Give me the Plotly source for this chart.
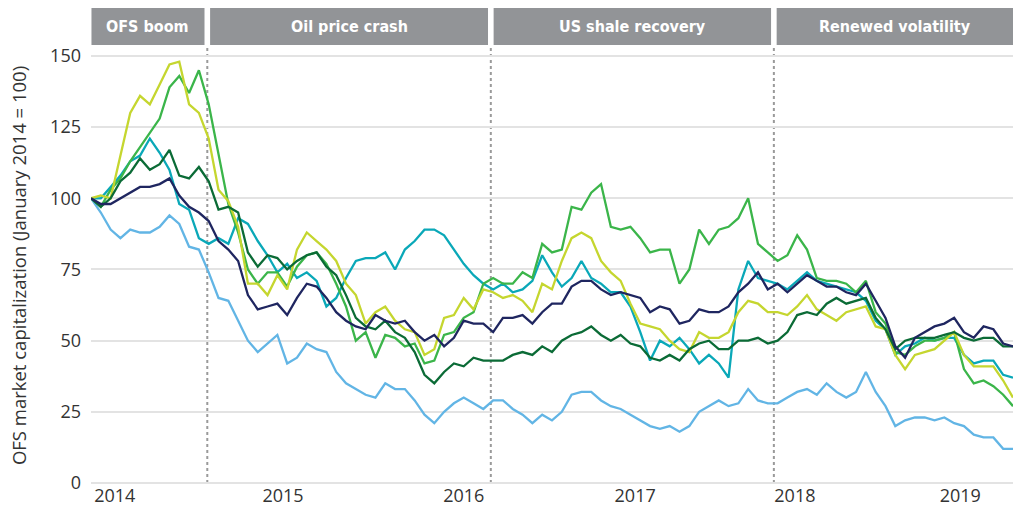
import pandas as pd
import plotly.graph_objects as go
from datetime import timedelta

start_date = "2014-01-01"
n_points = 95
step_days = 21

navy = [100, 98, 98, 100, 102, 104, 104, 105, 107, 101, 97, 95, 92, 85, 82, 78, 66,
        61, 62, 63, 59, 65, 70, 69, 65, 60, 57, 55, 54, 59, 57, 56, 57,
        53, 50, 52, 48, 51, 57, 56, 56, 53, 58, 58, 59, 56, 60, 63,
        63, 69, 71, 71, 68, 66, 67, 66, 65, 60, 62, 61, 56, 57, 61, 60,
        60, 62, 67, 70, 74, 68, 70, 67, 70, 73, 71, 69, 69, 67, 66,
        70, 64, 58, 48, 44, 51, 53, 55, 56, 58, 53, 51, 55, 54, 49, 48]

light_blue = [100, 95, 89, 86, 89, 88, 88, 90, 94, 91, 83, 82, 74, 65, 64, 57, 50,
              46, 49, 52, 42, 44, 49, 47, 46, 39, 35, 33, 31, 30, 35, 33, 33,
              29, 24, 21, 25, 28, 30, 28, 26, 29, 29, 26, 24, 21, 24, 22,
              25, 31, 32, 32, 29, 27, 26, 24, 22, 20, 19, 20, 18, 20, 25, 27,
              29, 27, 28, 33, 29, 28, 28, 30, 32, 33, 31, 35, 32, 30, 32,
              39, 32, 27, 20, 22, 23, 23, 22, 23, 21, 20, 17, 16, 16, 12, 12]

teal = [100, 100, 104, 108, 113, 115, 121, 116, 110, 98, 96, 86, 84, 86, 84, 93, 91,
        85, 80, 74, 77, 72, 74, 71, 62, 65, 72, 78, 79, 79, 81, 75, 82,
        85, 89, 89, 87, 82, 77, 73, 70, 68, 70, 67, 68, 71, 80, 74,
        69, 72, 78, 72, 70, 67, 67, 62, 53, 43, 50, 48, 51, 47, 42, 45,
        42, 37, 68, 78, 72, 71, 70, 68, 71, 74, 71, 70, 69, 68, 67,
        64, 57, 54, 45, 48, 49, 51, 50, 51, 51, 45, 42, 43, 43, 38, 37]

green = [100, 97, 103, 107, 113, 118, 123, 128, 139, 143, 137, 145, 133, 115, 98, 88, 75,
         70, 74, 74, 69, 76, 80, 81, 77, 70, 62, 50, 53, 44, 52, 51, 48,
         49, 42, 43, 52, 53, 58, 60, 70, 72, 70, 70, 74, 72, 84, 81,
         82, 97, 96, 102, 105, 90, 89, 90, 86, 81, 82, 82, 70, 75, 89, 84,
         89, 90, 93, 100, 84, 81, 78, 80, 87, 82, 72, 71, 71, 70, 67,
         71, 60, 56, 46, 45, 48, 50, 50, 51, 53, 40, 35, 36, 34, 31, 27]

lime = [100, 101, 100, 115, 130, 136, 133, 140, 147, 148, 133, 130, 121, 103, 99, 90, 70,
        70, 66, 73, 68, 82, 88, 85, 82, 78, 70, 66, 56, 60, 62, 57, 54,
        53, 45, 47, 58, 59, 65, 61, 68, 67, 65, 66, 64, 60, 70, 68,
        78, 86, 88, 86, 78, 74, 71, 63, 56, 55, 54, 50, 47, 46, 53, 51,
        51, 53, 60, 64, 63, 60, 60, 59, 62, 66, 61, 59, 57, 60, 61,
        62, 55, 54, 45, 40, 45, 46, 47, 50, 53, 45, 41, 41, 41, 36, 30]

dark_green = [100, 97, 100, 106, 109, 114, 110, 112, 117, 108, 107, 111, 106, 96, 97, 95, 81,
              76, 80, 79, 75, 78, 80, 81, 76, 73, 66, 58, 55, 54, 57, 53, 51,
              46, 38, 35, 39, 42, 41, 44, 43, 43, 43, 45, 46, 45, 48, 46,
              50, 52, 53, 55, 52, 50, 52, 49, 48, 44, 43, 45, 43, 47, 49, 50,
              47, 47, 50, 50, 51, 49, 50, 53, 59, 60, 59, 63, 65, 63, 64,
              65, 58, 54, 47, 50, 51, 51, 51, 52, 53, 51, 50, 51, 51, 48, 48]

series_names = ["Light blue", "Teal", "Green", "Lime", "Dark green", "Navy"]
series_values = [light_blue, teal, green, lime, dark_green, navy]
series_colors = ["#62b5e5", "#0aa8b8", "#3bb54a", "#c5d62f", "#0b6b36", "#1f2660"]

tick_dates = ["2014-02-21", "2015-02-16", "2016-03-09", "2017-03-11", "2018-02-16", "2019-02-05"]
tick_labels = ["2014", "2015", "2016", "2017", "2018", "2019"]
y_ticks = [0, 25, 50, 75, 100, 125, 150]

period_labels = ["OFS boom", "Oil price crash", "US shale recovery", "Renewed volatility"]
period_bounds = ["2014-09-07", "2016-05-06", "2018-01-02"]

# ---- figure ----
dates = pd.date_range(start_date, periods=n_points, freq=f"{step_days}D")
x_start = dates[0]
x_end = dates[-1]

fig = go.Figure()
for name, vals, col in zip(series_names, series_values, series_colors):
    fig.add_trace(go.Scatter(x=dates, y=vals, mode="lines", name=name,
                             line=dict(color=col, width=2.3), showlegend=False))

# dotted period separators
for b in period_bounds:
    fig.add_shape(type="line", xref="x", yref="paper", x0=b, x1=b, y0=0, y1=1,
                  line=dict(color="#9a9a9a", width=2, dash="dot"), layer="below")

# header boxes
edges = [x_start] + [pd.Timestamp(b) for b in period_bounds] + [x_end]
gap = timedelta(days=6)
for i, lab in enumerate(period_labels):
    x0 = edges[i] + (gap if i > 0 else timedelta(days=1))
    x1 = edges[i + 1] - (gap if i < len(period_labels) - 1 else timedelta(days=0))
    fig.add_shape(type="rect", xref="x", yref="paper", x0=x0, x1=x1, y0=1.0069, y1=1.092,
                  fillcolor="#929497", line=dict(width=0))
    mid = x0 + (x1 - x0) / 2
    fig.add_annotation(x=mid, y=1.0495, xref="x", yref="paper", text=f"<b>{lab}</b>",
                       showarrow=False, xanchor="center", yanchor="middle",
                       font=dict(family="Liberation Sans Narrow, DejaVu Sans Condensed, Open Sans",
                                 size=16, color="white"))

fig.update_layout(
    width=1013, height=514,
    margin=dict(l=91, r=0, t=48, b=31, autoexpand=False),
    plot_bgcolor="white", paper_bgcolor="white",
    font=dict(family="Open Sans", size=18, color="#333333"),
)
fig.update_xaxes(range=[x_start, x_end], tickmode="array", tickvals=tick_dates,
                 ticktext=tick_labels, showgrid=False, zeroline=False, showline=False,
                 ticks="", automargin=False, tickfont=dict(size=18, color="#333333"))
fig.update_yaxes(range=[0, 152.8], tickmode="array", tickvals=y_ticks, showgrid=True,
                 gridcolor="#e3e3e3", gridwidth=2, zeroline=True, zerolinecolor="#e3e3e3",
                 zerolinewidth=2, showline=False, ticks="", ticklabelstandoff=9,
                 automargin=False, tickfont=dict(size=18, color="#333333"),
                 title=dict(text="OFS market capitalization (January 2014 = 100)",
                            font=dict(size=18.5, color="#333333"), standoff=18))

fig.write_html("out.html", config={"displayModeBar": False},
               post_script="document.body.style.margin='0';")
